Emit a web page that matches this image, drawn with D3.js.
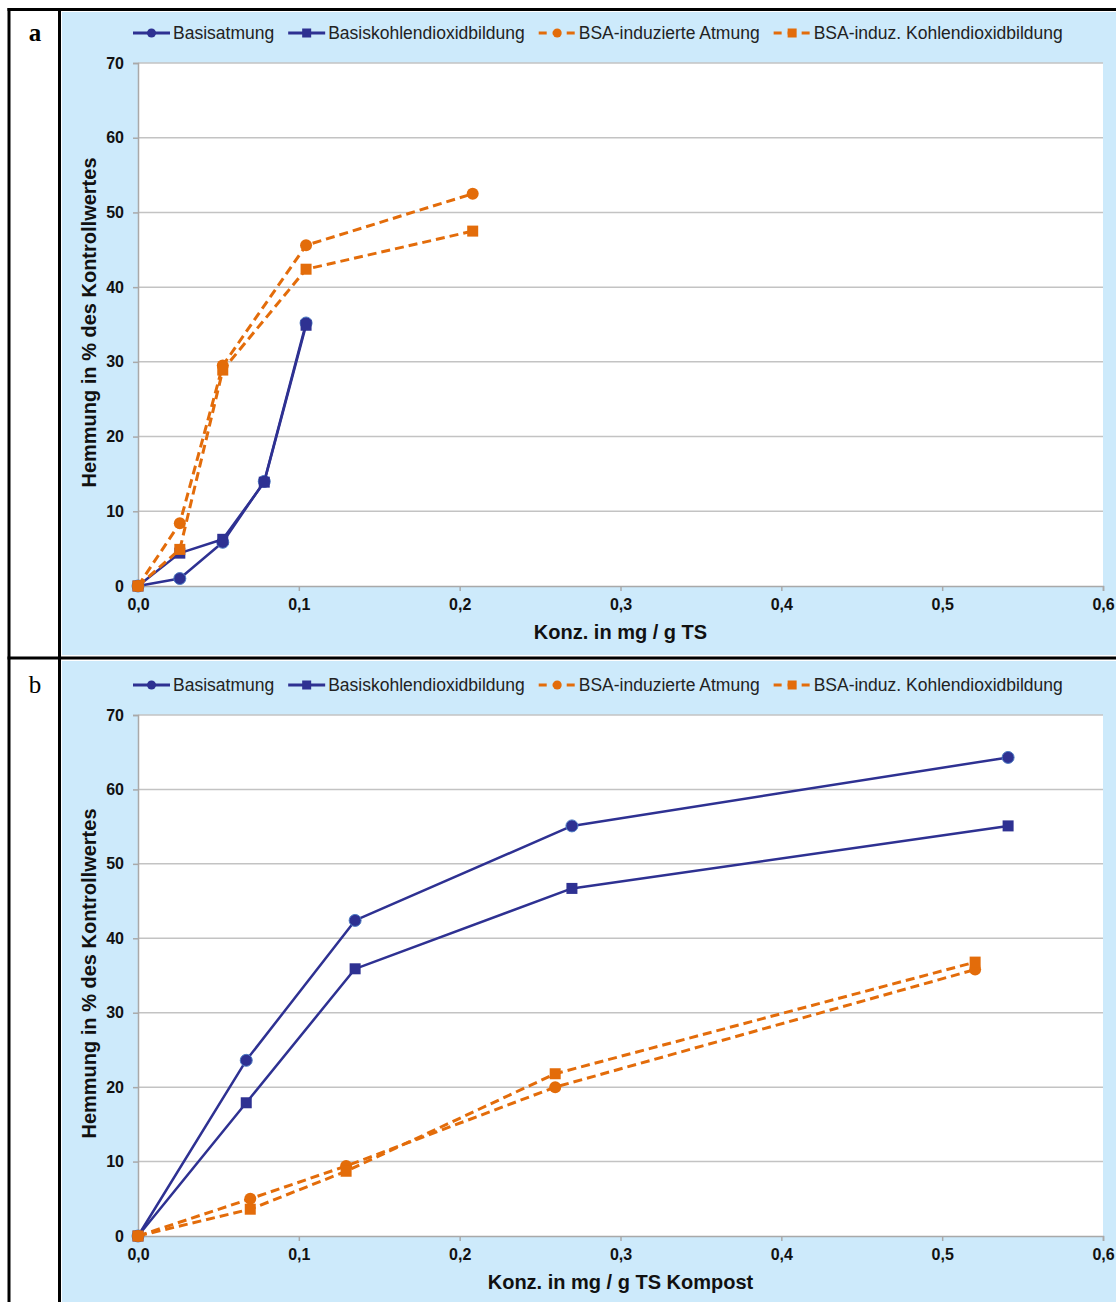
<!DOCTYPE html>
<html>
<head>
<meta charset="utf-8">
<script src="https://cdn.jsdelivr.net/npm/d3@7"></script>
<style>
  body { margin: 0; background: #ffffff; }
  svg { display: block; }
</style>
</head>
<body>
<svg id="fig" width="1116" height="1302"></svg>
<script>
// ---- Data -------------------------------------------------------------
const seriesNames = [
  "Basisatmung",
  "Basiskohlendioxidbildung",
  "BSA-induzierte Atmung",
  "BSA-induz. Kohlendioxidbildung"
];
const xTickValues = [0, 0.1, 0.2, 0.3, 0.4, 0.5, 0.6];
const yTickValues = [0, 10, 20, 30, 40, 50, 60, 70];

// Panel a: concentration in mg / g TS
const concABasis = [0, 0.026, 0.0527, 0.0785, 0.1045];
const basisAtmungA = [0, 1.0, 5.85, 14.0, 35.2];
const basisCO2A = [0, 4.4, 6.25, 13.9, 34.9];
const concABsa = [0, 0.026, 0.0527, 0.1045, 0.2081];
const bsaAtmungA = [0, 8.4, 29.5, 45.6, 52.5];
const bsaCO2A = [0, 4.9, 28.9, 42.4, 47.5];

// Panel b: concentration in mg / g TS Kompost
const concBBasis = [0, 0.0673, 0.135, 0.2698, 0.541];
const basisAtmungB = [0, 23.6, 42.4, 55.1, 64.3];
const basisCO2B = [0, 17.9, 35.9, 46.7, 55.1];
const concBBsa = [0, 0.0698, 0.1294, 0.2594, 0.5205];
const bsaAtmungB = [0, 5.0, 9.4, 20.0, 35.8];
const bsaCO2B = [0, 3.6, 8.7, 21.8, 36.8];

// ---- Styling ----------------------------------------------------------
const BLUE = "#2e3192";
const ORANGE = "#e36c0a";
const PANEL_BG = "#cdeafb";
const GRID = "#c3c3c3";
const AXIS = "#a9a9a9";
const FONT = "'Liberation Sans', Arial, sans-serif";

const seriesStyle = [
  { color: BLUE, dash: null, marker: "circle" },
  { color: BLUE, dash: null, marker: "square" },
  { color: ORANGE, dash: "9,5", marker: "circle" },
  { color: ORANGE, dash: "9,5", marker: "square" }
];

const zip = (xs, ys) => xs.map((x, i) => ({ x, y: ys[i] }));

const panels = [
  {
    label: "a", labelWeight: "bold",
    bgTop: 12, bgBottom: 655,
    plotTop: 63, plotBottom: 586, legendY: 33,
    xTitle: "Konz. in mg / g TS",
    series: [
      zip(concABasis, basisAtmungA),
      zip(concABasis, basisCO2A),
      zip(concABsa, bsaAtmungA),
      zip(concABsa, bsaCO2A)
    ]
  },
  {
    label: "b", labelWeight: "normal",
    bgTop: 661, bgBottom: 1302,
    plotTop: 715, plotBottom: 1236, legendY: 685,
    xTitle: "Konz. in mg / g TS Kompost",
    series: [
      zip(concBBasis, basisAtmungB),
      zip(concBBasis, basisCO2B),
      zip(concBBsa, bsaAtmungB),
      zip(concBBsa, bsaCO2B)
    ]
  }
];

const plotLeft = 138, plotRight = 1103;
const deLocale = d3.formatLocale({ decimal: ",", thousands: ".", grouping: [3], currency: ["", " €"] });
const fmtX = deLocale.format(".1f");

const svg = d3.select("#fig");
svg.append("rect").attr("width", 1116).attr("height", 1302).attr("fill", "#ffffff");

function drawMarker(g, kind, cx, cy, size, color, outline) {
  if (kind === "circle") {
    g.append("circle").attr("cx", cx).attr("cy", cy).attr("r", size / 2)
      .attr("fill", color)
      .attr("stroke", outline ? "#4d7cc4" : "none").attr("stroke-width", outline ? 1 : 0);
  } else {
    g.append("rect").attr("x", cx - size / 2).attr("y", cy - size / 2)
      .attr("width", size).attr("height", size).attr("fill", color);
  }
}

panels.forEach(p => {
  const root = svg.append("g");

  // light blue chart background
  root.append("rect").attr("x", 62).attr("y", p.bgTop)
    .attr("width", 1116 - 62).attr("height", p.bgBottom - p.bgTop)
    .attr("fill", PANEL_BG);

  // panel letter
  root.append("text").attr("x", 35).attr("y", p.legendY + 8)
    .attr("text-anchor", "middle")
    .attr("font-family", "'Liberation Serif', 'DejaVu Serif', serif")
    .attr("font-size", 25).attr("font-weight", p.labelWeight)
    .attr("fill", "#000").text(p.label);

  const x = d3.scaleLinear().domain([0, 0.6]).range([plotLeft, plotRight]);
  const y = d3.scaleLinear().domain([0, 70]).range([p.plotBottom, p.plotTop]);

  // plot area
  root.append("rect").attr("x", plotLeft).attr("y", p.plotTop)
    .attr("width", plotRight - plotLeft).attr("height", p.plotBottom - p.plotTop)
    .attr("fill", "#ffffff");

  // horizontal gridlines
  root.append("g").selectAll("line").data(yTickValues.filter(v => v > 0)).join("line")
    .attr("x1", plotLeft).attr("x2", plotRight)
    .attr("y1", d => y(d)).attr("y2", d => y(d))
    .attr("stroke", GRID).attr("stroke-width", 1.5);

  // y axis
  const yAxis = root.append("g").attr("transform", `translate(${plotLeft},0)`)
    .call(d3.axisLeft(y).tickValues(yTickValues).tickSize(5).tickPadding(9));
  yAxis.select(".domain").attr("stroke", AXIS).attr("stroke-width", 1.5);
  yAxis.selectAll(".tick line").attr("stroke", AXIS).attr("stroke-width", 1.5);
  yAxis.selectAll(".tick text").attr("font-family", FONT).attr("font-size", 16)
    .attr("font-weight", "bold").attr("fill", "#111");

  // x axis
  const xAxis = root.append("g").attr("transform", `translate(0,${p.plotBottom})`)
    .call(d3.axisBottom(x).tickValues(xTickValues).tickFormat(fmtX).tickSize(5).tickPadding(8));
  xAxis.select(".domain").attr("stroke", AXIS).attr("stroke-width", 1.5);
  xAxis.selectAll(".tick line").attr("stroke", AXIS).attr("stroke-width", 1.5);
  xAxis.selectAll(".tick text").attr("font-family", FONT).attr("font-size", 16)
    .attr("font-weight", "bold").attr("fill", "#111");

  // axis titles
  root.append("text")
    .attr("x", (plotLeft + plotRight) / 2).attr("y", p.plotBottom + 53)
    .attr("text-anchor", "middle").attr("font-family", FONT)
    .attr("font-size", 20).attr("font-weight", "bold").attr("fill", "#111")
    .text(p.xTitle);
  root.append("text")
    .attr("transform", `translate(89,${(p.plotTop + p.plotBottom) / 2 - 2}) rotate(-90)`)
    .attr("dy", "0.35em")
    .attr("text-anchor", "middle").attr("font-family", FONT)
    .attr("font-size", 20).attr("font-weight", "bold").attr("fill", "#111")
    .text("Hemmung in % des Kontrollwertes");

  // series lines and markers
  const line = d3.line().x(d => x(d.x)).y(d => y(d.y));
  p.series.forEach((data, i) => {
    const st = seriesStyle[i];
    const sg = root.append("g");
    sg.append("path").datum(data).attr("d", line)
      .attr("fill", "none").attr("stroke", st.color)
      .attr("stroke-width", st.dash ? 3 : 2.5)
      .attr("stroke-dasharray", st.dash)
      .attr("stroke-linejoin", "round");
    data.forEach(d => {
      drawMarker(sg, st.marker, x(d.x), y(d.y), st.marker === "circle" ? 12 : 11,
        st.color, st.color === BLUE);
    });
  });

  // legend
  const lg = root.append("g");
  let cursor = 133;
  seriesNames.forEach((name, i) => {
    const st = seriesStyle[i];
    const ly = p.legendY;
    lg.append("line").attr("x1", cursor).attr("x2", cursor + 37)
      .attr("y1", ly).attr("y2", ly)
      .attr("stroke", st.color).attr("stroke-width", 3)
      .attr("stroke-dasharray", st.dash ? "8,6" : null);
    drawMarker(lg, st.marker, cursor + 18.5, ly, 9, st.color, false);
    const t = lg.append("text").attr("x", cursor + 40).attr("y", ly).attr("dy", "0.35em")
      .attr("font-family", FONT).attr("font-size", 17.5).attr("fill", "#222").text(name);
    cursor += 40 + t.node().getComputedTextLength() + 14;
  });
});

// table frame lines
const frame = svg.append("g").attr("stroke", "#000").attr("stroke-width", 3);
frame.append("line").attr("x1", 7.5).attr("x2", 1116).attr("y1", 9.5).attr("y2", 9.5);
frame.append("line").attr("x1", 9).attr("x2", 9).attr("y1", 8).attr("y2", 1302);
frame.append("line").attr("x1", 59.5).attr("x2", 59.5).attr("y1", 8).attr("y2", 1302);
frame.append("line").attr("x1", 7.5).attr("x2", 1116).attr("y1", 658).attr("y2", 658);
</script>
</body>
</html>
